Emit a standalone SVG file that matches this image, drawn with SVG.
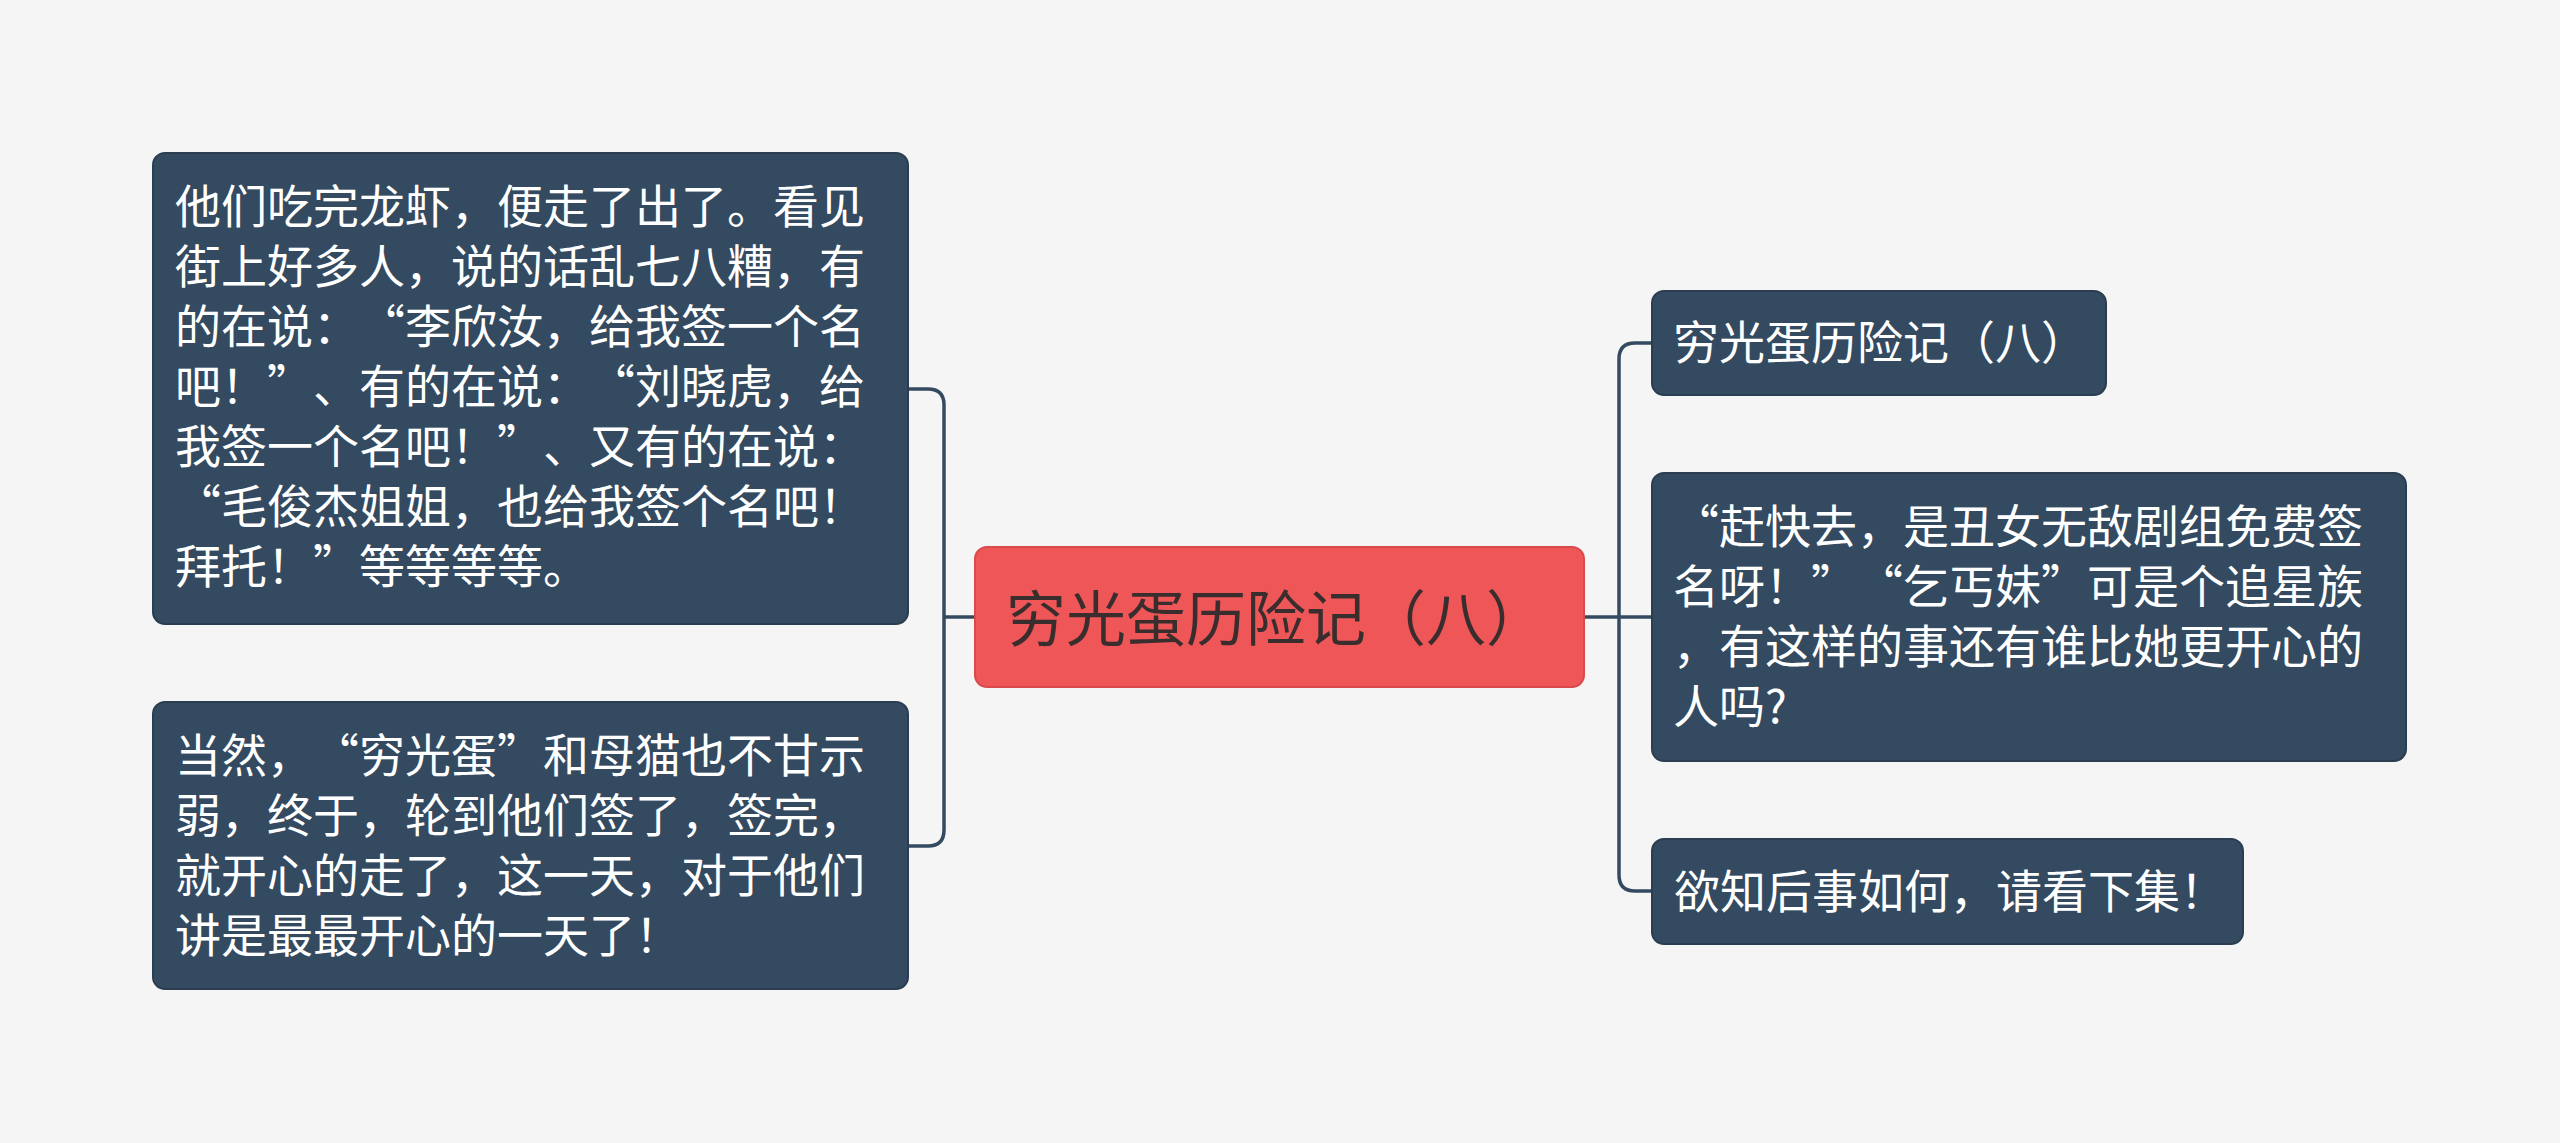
<svg xmlns="http://www.w3.org/2000/svg" width="2560" height="1143" viewBox="0 0 2560 1143">
<style>
.bg{fill:#f5f5f5}
.node rect{fill:#334a60;stroke:#2b3e51;stroke-width:2}
.node text{fill:#ffffff;font-family:"Noto Sans CJK SC","Noto Sans",sans-serif;font-size:46px;text-spacing-trim:space-all;font-variant-east-asian:full-width}
.node text.pw{font-variant-east-asian:normal}
#center rect{fill:#ef5658;stroke:#d94a4c;stroke-width:2}
#center text{fill:#3a2d2d;font-size:60px}
.conn path{fill:none;stroke:#334a60;stroke-width:3.5}
</style>
<rect class="bg" x="0" y="0" width="2560" height="1143"/>
<g class="conn" id="connectors">
<path d="M975,617 H944"/>
<path d="M908,389 H928 Q944,389 944,405 V830 Q944,846 928,846 H908"/>
<path d="M1584,617 H1619"/>
<path d="M1652,343 H1635 Q1619,343 1619,359 V875 Q1619,891 1635,891 H1652"/>
<path d="M1619,617 H1652"/>
</g>
<g class="node" id="center">
<rect x="975" y="547" width="609" height="140" rx="12"/>
<text x="1006" y="641">穷光蛋历险记（八）</text>
</g>
<g class="node" id="left1">
<rect x="153" y="153" width="755" height="471" rx="12"/>
<text x="175" y="223">他们吃完龙虾，便走了出了。看见</text>
<text x="175" y="283">街上好多人，说的话乱七八糟，有</text>
<text x="175" y="343">的在说：“李欣汝，给我签一个名</text>
<text x="175" y="403">吧！”、有的在说：“刘晓虎，给</text>
<text x="175" y="463">我签一个名吧！”、又有的在说：</text>
<text x="175" y="523">“毛俊杰姐姐，也给我签个名吧！</text>
<text x="175" y="583">拜托！”等等等等。</text>
</g>
<g class="node" id="left2">
<rect x="153" y="702" width="755" height="287" rx="12"/>
<text x="175" y="772">当然，“穷光蛋”和母猫也不甘示</text>
<text x="175" y="832">弱，终于，轮到他们签了，签完，</text>
<text x="175" y="892">就开心的走了，这一天，对于他们</text>
<text x="175" y="952">讲是最最开心的一天了！</text>
</g>
<g class="node" id="right1">
<rect x="1652" y="291" width="454" height="104" rx="12"/>
<text x="1673" y="359">穷光蛋历险记（八）</text>
</g>
<g class="node" id="right2">
<rect x="1652" y="473" width="754" height="288" rx="12"/>
<text x="1673" y="543">“赶快去，是丑女无敌剧组免费签</text>
<text x="1673" y="603">名呀！”“乞丐妹”可是个追星族</text>
<text x="1673" y="663">，有这样的事还有谁比她更开心的</text>
<text class="pw" x="1673" y="723">人吗?</text>
</g>
<g class="node" id="right3">
<rect x="1652" y="839" width="591" height="105" rx="12"/>
<text x="1674" y="908">欲知后事如何，请看下集！</text>
</g>
</svg>
